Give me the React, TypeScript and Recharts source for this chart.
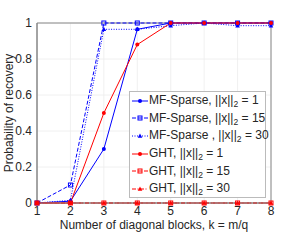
import React from 'react'
import { LineChart, Line, XAxis, YAxis, CartesianGrid, ReferenceArea } from 'recharts'

const blocks = [1, 2, 3, 4, 5, 6, 7, 8]
const mfNorm1 = [0, 0.01, 0.3, 0.965, 1, 1, 1, 1]
const mfNorm15 = [0, 0.1, 1, 1, 1, 1, 1, 1]
const mfNorm30 = [0, 0.015, 0.965, 0.965, 0.985, 1, 0.985, 0.985]
const ghtNorm1 = [0, 0, 0.5, 0.88, 1, 1, 1, 1]
const ghtNorm15 = [0, 0, 0, 0, 0, 0, 0, 0]
const ghtNorm30 = [0, 0, 0, 0, 0, 0, 0, 0]
const yTicks = [0, 0.2, 0.4, 0.6, 0.8, 1]

const data = blocks.map((k, i) => ({
  k,
  mf1: mfNorm1[i], mf15: mfNorm15[i], mf30: mfNorm30[i],
  ght1: ghtNorm1[i], ght15: ghtNorm15[i], ght30: ghtNorm30[i],
}))

const BLUE = '#0000ff'
const RED = '#ff0000'
const INK = '#262626'
const FONT = '"Liberation Sans", Arial, sans-serif'

const series = [
  { key: 'mf1', name: 'MF-Sparse, ', norm: '1', color: BLUE, dash: undefined, shape: 'circle' },
  { key: 'mf15', name: 'MF-Sparse, ', norm: '15', color: BLUE, dash: '4 2', shape: 'square' },
  { key: 'mf30', name: 'MF-Sparse , ', norm: '30', color: BLUE, dash: '1 1.5', shape: 'triangle' },
  { key: 'ght1', name: 'GHT, ', norm: '1', color: RED, dash: undefined, shape: 'circle' },
  { key: 'ght15', name: 'GHT, ', norm: '15', color: RED, dash: '4 2', shape: 'square' },
  { key: 'ght30', name: 'GHT, ', norm: '30', color: RED, dash: '4 1.5 1 1.5', shape: 'triangle' },
]

const Marker = ({ cx, cy, shape, color }: any) => {
  if (cx == null || cy == null) return null
  if (shape === 'square') return <rect x={cx - 2} y={cy - 2} width={4} height={4} fill="none" stroke={color} strokeWidth={1} />
  if (shape === 'triangle') return <path d={`M${cx},${cy - 2.5} L${cx + 2.3},${cy + 1.8} L${cx - 2.3},${cy + 1.8} Z`} fill={color} />
  return <circle cx={cx} cy={cy} r={2} fill={color} />
}

const LegendBox = () => (
  <div style={{ position: 'absolute', left: 129, top: 91, width: 137, height: 107, border: '1px solid #bbb', background: '#fff', fontFamily: FONT, fontSize: 12, color: INK, boxSizing: 'border-box' }}>
    {series.map(s => (
      <div key={s.key} style={{ display: 'flex', alignItems: 'center', height: 17.6, lineHeight: '12px', whiteSpace: 'nowrap' }}>
        <svg width={17} height={10} style={{ marginLeft: 1, marginRight: 1, flex: 'none' }}>
          <line x1={1} y1={5} x2={17} y2={5} stroke={s.color} strokeWidth={1} strokeDasharray={s.dash} />
          <Marker cx={9} cy={5} shape={s.shape} color={s.color} />
        </svg>
        <span>{s.name}||x||<span style={{ fontSize: 8.5, position: 'relative', top: 3 }}>2</span> = {s.norm}</span>
      </div>
    ))}
  </div>
)

// axis titles drawn in an overlay so they sit where the reference has them
const AxisTitles = () => (
  <svg width={287} height={241} style={{ position: 'absolute', left: 0, top: 0, pointerEvents: 'none' }}>
    <text x={13} y={113} transform="rotate(-90 13 113)" textAnchor="middle" fontSize={12} fill={INK} fontFamily={FONT}>
      Probability of recovery
    </text>
    <text x={154} y={229} textAnchor="middle" fontSize={12} fill={INK} fontFamily={FONT}>
      Number of diagonal blocks, k = m/q
    </text>
  </svg>
)

export default function App() {
  return (
    <div style={{ position: 'absolute', left: 0, top: 0, width: 287, height: 241, background: '#fff' }}>
      <LineChart width={287} height={241} data={data} margin={{ top: 23, right: 16, left: 0, bottom: 0 }}>
        <CartesianGrid stroke="#ececec" strokeWidth={0.8} />
        <XAxis dataKey="k" type="number" domain={[1, 8]} ticks={blocks} height={38} tickLine={false} tickSize={3}
          axisLine={{ stroke: '#888' }} tick={{ fontSize: 12, fill: INK, fontFamily: FONT }} tickMargin={0} />
        <YAxis type="number" domain={[0, 1]} ticks={yTicks} width={37} tickLine={false} tickSize={3}
          axisLine={{ stroke: '#888' }} tick={{ fontSize: 12, fill: INK, fontFamily: FONT }} tickMargin={2} />
        <ReferenceArea x1={1} x2={8} y1={0} y2={1} fill="none" stroke="#888" strokeWidth={1} ifOverflow="visible" />
        {series.map(s => (
          <Line key={s.key} dataKey={s.key} stroke={s.color} strokeWidth={1} strokeDasharray={s.dash}
            dot={(p: any) => <Marker key={p.index} cx={p.cx} cy={p.cy} shape={s.shape} color={s.color} />}
            activeDot={false} isAnimationActive={false} />
        ))}
      </LineChart>
      <AxisTitles />
      <LegendBox />
    </div>
  )
}
